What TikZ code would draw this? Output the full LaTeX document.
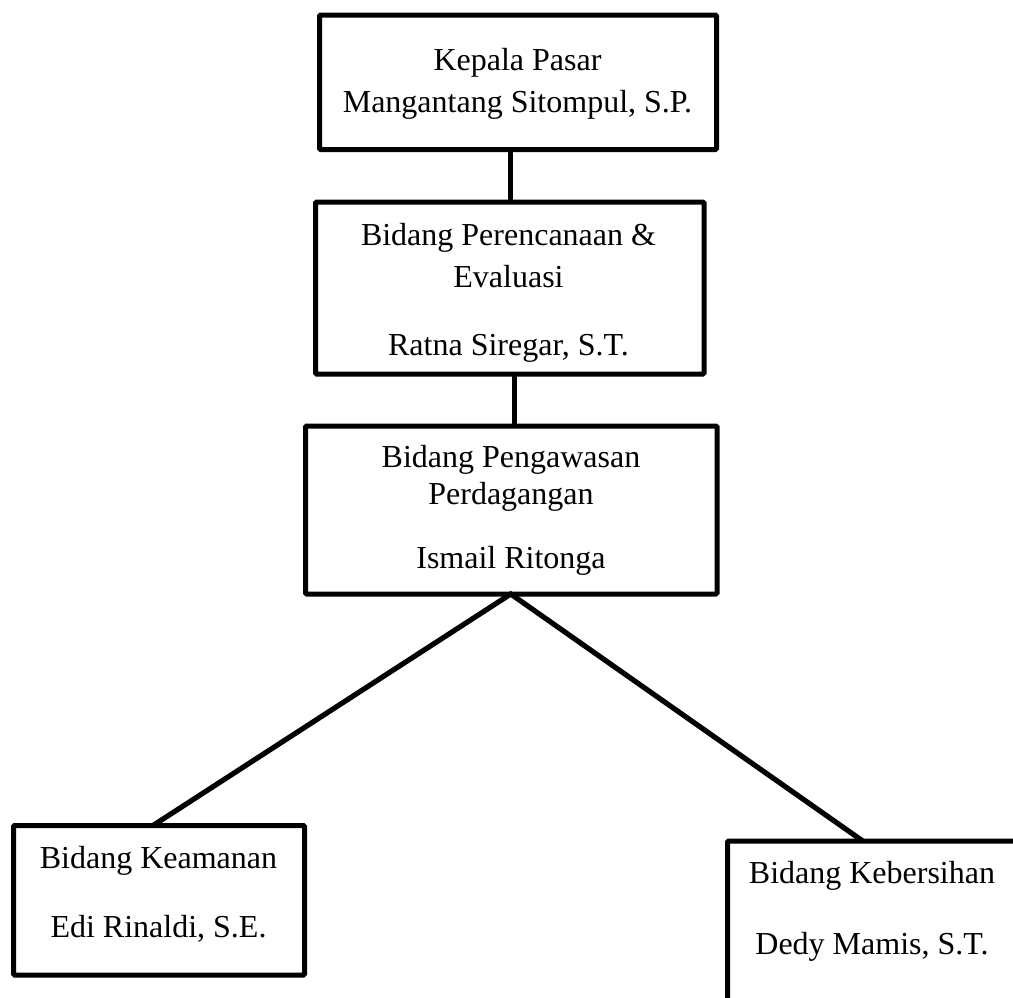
\documentclass[tikz,border=0pt]{standalone}
\usepackage{fontspec}
\setmainfont{Liberation Serif}
\begin{document}
\begin{tikzpicture}[x=1pt,y=-1pt,
  box/.style={draw=black,line width=5pt,rectangle,inner sep=0pt,outer sep=0pt,fill=white,rounded corners=1.2pt},
  lbl/.style={anchor=base,inner sep=0pt,outer sep=0pt,font=\fontsize{32}{38}\selectfont},
  link/.style={draw=black,line width=5.2pt}]
\useasboundingbox (0,0) rectangle (1013,997);
\clip (0,0) rectangle (1013,997);
% boxes
\node[box,minimum width=397pt,minimum height=134.5pt] (b1) at (518,82.25) {};
\node[box,minimum width=388.5pt,minimum height=172pt] (b2) at (509.75,288) {};
\node[box,minimum width=411.5pt,minimum height=168pt] (b3) at (511.25,510) {};
\node[box,minimum width=291pt,minimum height=149.5pt] (b4) at (159,900.25) {};
\node[box,minimum width=290.5pt,minimum height=169pt] (b5) at (872.75,925.5) {};
% connectors
\draw[link] ([xshift=1pt]b2.north) -- ([xshift=1pt]b2.north |- b1.south);
\draw[link] ([xshift=3pt]b3.north) -- ([xshift=3pt]b3.north |- b2.south);
\draw[link,line join=miter] ([xshift=-6pt]b4.north) -- ([xshift=-0.5pt]b3.south) -- ([xshift=-10pt]b5.north);
% texts
\node[lbl] (t1a) at (517.5,70) {Kepala Pasar};
\node[lbl] (t1b) at (517.5,112) {Mangantang Sitompul, S.P.};
\node[lbl] (t2a) at (508.5,245) {Bidang Perencanaan \&};
\node[lbl] (t2b) at (508.5,287) {Evaluasi};
\node[lbl] (t2c) at (508.5,355) {Ratna Siregar, S.T.};
\node[lbl] (t3a) at (511,467) {Bidang Pengawasan};
\node[lbl] (t3b) at (511,504) {Perdagangan};
\node[lbl] (t3c) at (511,568) {Ismail Ritonga};
\node[lbl] (t4a) at (158.5,868) {Bidang Keamanan};
\node[lbl] (t4b) at (158.5,937) {Edi Rinaldi, S.E.};
\node[lbl] (t5a) at (872,883) {Bidang Kebersihan};
\node[lbl] (t5b) at (872,954) {Dedy Mamis, S.T.};
\end{tikzpicture}
\end{document}
